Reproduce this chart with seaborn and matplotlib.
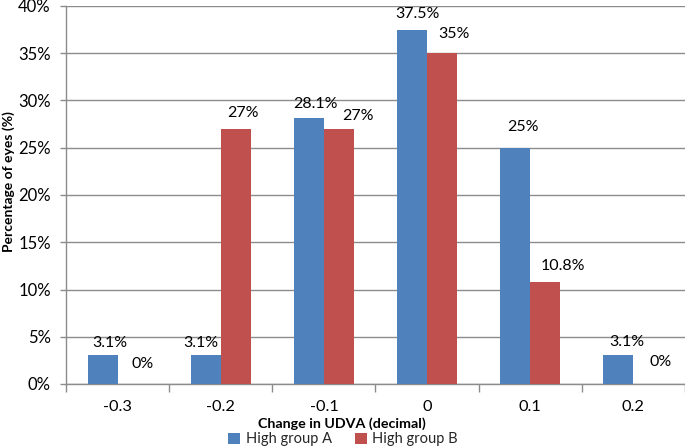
import matplotlib
matplotlib.use("Agg")
import matplotlib.pyplot as plt
import seaborn as sns
import pandas as pd
from matplotlib.ticker import FixedLocator, PercentFormatter

categories = ["-0.3", "-0.2", "-0.1", "0", "0.1", "0.2"]
group_a = [3.1, 3.1, 28.1, 37.5, 25.0, 3.1]
group_b = [0.0, 27.0, 27.0, 35.0, 10.8, 0.0]
labels_a = ["3.1%", "3.1%", "28.1%", "37.5%", "25%", "3.1%"]
labels_b = ["0%", "27%", "27%", "35%", "10.8%", "0%"]
series_names = ["High group A", "High group B"]

# label offsets in pixels (dx, dy above bar top) — style only
offs_a = [(7, 12), (-5, 12), (6, 14), (5, 16), (8, 21), (8, 13)]
offs_b = [(10, 20), (7, 16), (19, 13), (12, 19), (18, 16), (12, 22)]

df = pd.DataFrame({
    "cat": categories * 2,
    "val": group_a + group_b,
    "grp": [series_names[0]] * len(categories) + [series_names[1]] * len(categories),
})

sns.set_theme(style="white")
plt.rcParams["font.family"] = ["Lato", "DejaVu Sans"]

fig = plt.figure(figsize=(6.85, 4.47), dpi=100)
ax = fig.add_axes([66 / 685, 1 - 384 / 447, 619 / 685, 378 / 447])

colors = ["#4F81BD", "#C0504D"]
sns.barplot(data=df, x="cat", y="val", hue="grp", order=categories,
            hue_order=series_names, palette=colors, width=0.58, gap=0,
            saturation=1, ax=ax, legend=True, zorder=3, linewidth=0)

ax.set_ylim(0, 40)
ax.set_xlim(-0.5, len(categories) - 0.5)
ax.yaxis.set_major_locator(FixedLocator([0, 5, 10, 15, 20, 25, 30, 35, 40]))
ax.yaxis.set_major_formatter(PercentFormatter(decimals=0))
ax.grid(axis="y", color="#8C8C8C", linewidth=1.0, zorder=0)
ax.set_axisbelow(True)

for s in ["top", "right"]:
    ax.spines[s].set_visible(False)
for s in ["left", "bottom"]:
    ax.spines[s].set_color("#8C8C8C")
    ax.spines[s].set_linewidth(1.0)

ax.tick_params(axis="y", which="major", length=4, width=1, color="#8C8C8C",
               direction="out", left=True, pad=7, labelsize=12, labelcolor="#000000")
ax.tick_params(axis="x", which="major", length=0, pad=11.5, labelsize=11.8,
               labelcolor="#000000")
ax.set_xticks([i + 0.5 for i in range(-1, len(categories))], minor=True)
ax.tick_params(axis="x", which="minor", length=6, width=1, color="#8C8C8C",
               direction="out", bottom=True)

# data labels
px = 0.72
for cont, labs, offs in zip(ax.containers, [labels_a, labels_b], [offs_a, offs_b]):
    for bar, lab, (dx, dy) in zip(cont, labs, offs):
        xc = bar.get_x() + bar.get_width() / 2
        yt = bar.get_height()
        ax.annotate(lab, (xc, yt), xytext=(dx * px, dy * px),
                    textcoords="offset points", ha="center", va="center",
                    fontsize=11.5, color="#000000", annotation_clip=False)

ax.set_ylabel("Percentage of eyes (%)", fontsize=10, fontweight="bold", color="#000000")
ax.yaxis.label.set_verticalalignment("center")
ax.yaxis.set_label_coords((9 - 66) / 619, (384 - 182) / 378)
ax.set_xlabel("")
fig.text(342 / 685, 1 - 423.5 / 447, "Change in UDVA (decimal)", ha="center", va="center",
         fontsize=10.3, fontweight="bold", color="#000000")

handles, lbls = ax.get_legend_handles_labels()
ax.legend_.remove()
fig.legend(handles, lbls, loc="center", bbox_to_anchor=(343 / 685, 1 - 439.5 / 447),
           ncol=2, frameon=False, fontsize=10.5, handlelength=0.8, handleheight=0.8,
           handletextpad=0.4, columnspacing=1.6, borderpad=0)

fig.savefig("out.png", dpi=100, facecolor="white")
